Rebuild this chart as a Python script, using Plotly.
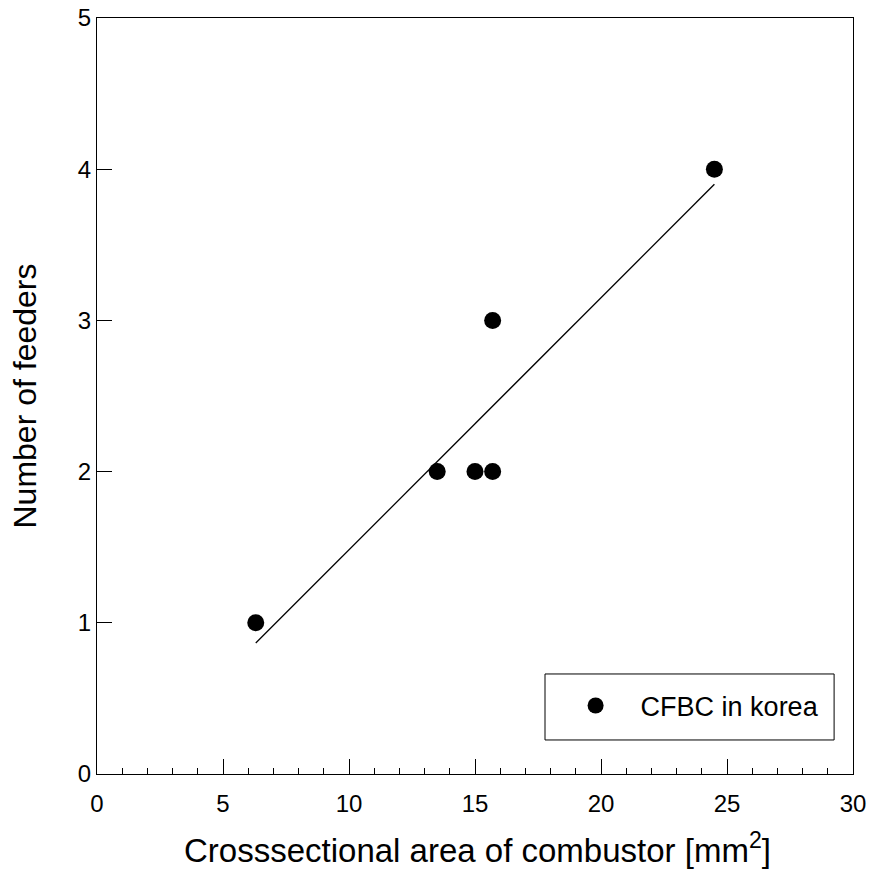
import plotly.graph_objects as go

# Data
area = [6.3, 13.5, 15.0, 15.7, 15.7, 24.5]
feeders = [1, 2, 2, 2, 3, 4]

# Fitted line end points
fit_x = [6.3, 24.5]
fit_y = [0.866, 3.90]

x_ticks = [0, 5, 10, 15, 20, 25, 30]
y_ticks = [0, 1, 2, 3, 4, 5]

x_title = "Crosssectional area of combustor [mm<sup>2</sup>]"
y_title = "Number of feeders"
series_name = "CFBC in korea"

FONT = "Liberation Sans, Arial, sans-serif"

fig = go.Figure()
fig.add_trace(go.Scatter(
    x=fit_x, y=fit_y, mode="lines",
    line=dict(color="black", width=1.3),
    showlegend=False, hoverinfo="skip"))
fig.add_trace(go.Scatter(
    x=area, y=feeders, mode="markers", name=series_name,
    marker=dict(color="black", size=17, line=dict(width=0))))

fig.update_layout(
    width=872, height=874,
    margin=dict(l=97, r=19, t=18, b=100),
    paper_bgcolor="white", plot_bgcolor="white",
    font=dict(family=FONT, color="black", size=25),
    showlegend=True,
    legend=dict(
        x=0.600, y=0.09, xanchor="left", yanchor="middle",
        bgcolor="rgba(0,0,0,0)", borderwidth=0,
        itemwidth=80,
        font=dict(family=FONT, size=27, color="black")),
    shapes=[dict(type="rect", xref="paper", yref="paper",
                 x0=0.5926, x1=0.975, y0=0.045, y1=0.1323,
                 line=dict(color="black", width=1), fillcolor="rgba(0,0,0,0)")],
    annotations=[dict(text=x_title, xref="paper", yref="paper",
                      x=0.503, y=-0.0979, xanchor="center", yanchor="middle",
                      showarrow=False, font=dict(family=FONT, size=33, color="black"))],
)

fig.update_xaxes(
    range=[0, 30], tickvals=x_ticks, ticktext=[str(v) for v in x_ticks],
    ticks="inside", ticklen=15, tickwidth=1, tickcolor="black",
    minor=dict(dtick=1, ticks="inside", ticklen=6, tickwidth=1, tickcolor="black"),
    showline=True, linecolor="black", linewidth=1, mirror=True,
    showgrid=False, zeroline=False, automargin=False,
    ticklabeloverflow="allow", ticklabelstandoff=8,
    tickfont=dict(size=24))

fig.update_yaxes(
    range=[0, 5], tickvals=y_ticks, ticktext=[str(v) for v in y_ticks],
    ticks="inside", ticklen=15, tickwidth=1, tickcolor="black",
    showline=True, linecolor="black", linewidth=1, mirror=True,
    showgrid=False, zeroline=False, automargin=False,
    ticklabeloverflow="allow",
    tickfont=dict(size=24),
    title=dict(text=y_title, font=dict(size=32), standoff=31))

fig.write_html("out.html",
               config={"displayModeBar": False},
               post_script="document.body.style.margin='0';document.body.style.padding='0';")
